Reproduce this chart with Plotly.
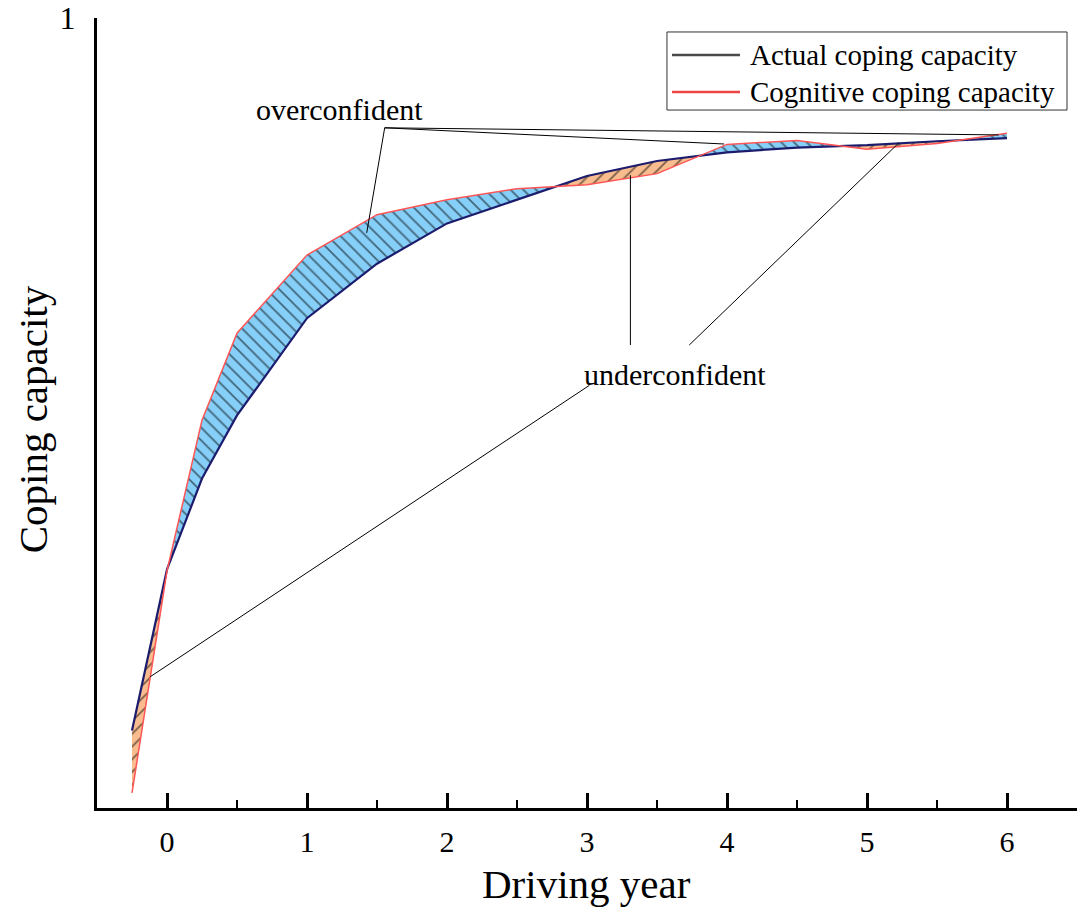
import plotly.graph_objects as go

# ---------------- data ----------------
driving_year = [-0.25, 0, 0.25, 0.5, 1, 1.5, 2, 2.5, 3, 3.5, 4, 4.5, 5, 5.5, 6]
actual_capacity = [0.098, 0.302, 0.417, 0.497, 0.620, 0.689, 0.740, 0.770,
                   0.800, 0.819, 0.830, 0.836, 0.839, 0.844, 0.848]
cognitive_capacity = [0.019, 0.300, 0.491, 0.601, 0.700, 0.751, 0.770, 0.784,
                      0.789, 0.803, 0.840, 0.845, 0.834, 0.841, 0.854]
x_ticks = [0, 1, 2, 3, 4, 5, 6]
y_ticks = [1]
series_names = ["Actual coping capacity", "Cognitive coping capacity"]
labels = ["overconfident", "underconfident"]
axis_titles = ["Driving year", "Coping capacity"]

# ---------------- styles / positions ----------------
FONT = "Liberation Serif"
NAVY = "#1c1c6e"
RED = "#ff5555"
BLUE_FILL = "#86cff8"
ORANGE_FILL = "#f9bc8f"
LEGEND_COLORS = ["#4a4a4a", "#ee4444"]

over_text_pos = (1.234, 0.884)
under_text_pos = (3.63, 0.549)
over_apex = (1.555, 0.861)
over_targets = [(1.4265, 0.728), (3.98, 0.8405), (5.941, 0.852)]
under_lines = [((3.31, 0.586), (3.31, 0.801)),
               ((3.73, 0.586), (5.228, 0.842)),
               ((3.017, 0.535), (-0.121, 0.166))]

# legend geometry (paper coords)
LEG_BOX = (0.5816, 0.8835, 0.9898, 0.9823)
LEG_ROWS = [0.9532, 0.9063]
LEG_LINE_X = (0.5867, 0.6561)
LEG_TEXT_X = 0.6643

# ------------- split into over/under regions -------------
px, pa, pc = [], [], []
n = len(driving_year)
for i in range(n):
    px.append(driving_year[i]); pa.append(actual_capacity[i]); pc.append(cognitive_capacity[i])
    if i < n - 1:
        d0 = cognitive_capacity[i] - actual_capacity[i]
        d1 = cognitive_capacity[i + 1] - actual_capacity[i + 1]
        if d0 * d1 < 0:
            t = d0 / (d0 - d1)
            xc = driving_year[i] + t * (driving_year[i + 1] - driving_year[i])
            yc = actual_capacity[i] + t * (actual_capacity[i + 1] - actual_capacity[i])
            px.append(xc); pa.append(yc); pc.append(yc)

runs = []
cur = []
for k in range(len(px)):
    cur.append(k)
    is_cross = (pa[k] == pc[k]) and 0 < k < len(px) - 1
    if is_cross:
        runs.append(cur)
        cur = [k]
if len(cur) > 1:
    runs.append(cur)

fig = go.Figure()
for run in runs:
    diffs = [pc[k] - pa[k] for k in run if pc[k] != pa[k]]
    over = sum(diffs) > 0
    col = BLUE_FILL if over else ORANGE_FILL
    xs = [px[k] for k in run] + [px[k] for k in reversed(run)]
    ys = [pc[k] for k in run] + [pa[k] for k in reversed(run)]
    fig.add_trace(go.Scatter(
        x=xs, y=ys, mode="lines", fill="toself", line=dict(width=0),
        fillcolor=col,
        fillpattern=dict(shape="\\" if over else "/", bgcolor=col,
                         fgcolor="black", size=9, solidity=0.2),
        showlegend=False, hoverinfo="skip"))

fig.add_trace(go.Scatter(x=driving_year, y=actual_capacity, mode="lines",
                         name=series_names[0],
                         line=dict(color=NAVY, width=2.2), showlegend=False))
fig.add_trace(go.Scatter(x=driving_year, y=cognitive_capacity, mode="lines",
                         name=series_names[1],
                         line=dict(color=RED, width=1.5), showlegend=False))

shapes = []
for tx, ty in over_targets:
    shapes.append(dict(type="line", xref="x", yref="y", x0=over_apex[0], y0=over_apex[1],
                       x1=tx, y1=ty, line=dict(color="black", width=1)))
for (x0, y0), (x1, y1) in under_lines:
    shapes.append(dict(type="line", xref="x", yref="y", x0=x0, y0=y0, x1=x1, y1=y1,
                       line=dict(color="black", width=1)))

# legend box + samples
shapes.append(dict(type="rect", xref="paper", yref="paper",
                   x0=LEG_BOX[0], y0=LEG_BOX[1], x1=LEG_BOX[2], y1=LEG_BOX[3],
                   line=dict(color="#333333", width=1), fillcolor="white"))
for ry, c in zip(LEG_ROWS, LEGEND_COLORS):
    shapes.append(dict(type="line", xref="paper", yref="paper",
                       x0=LEG_LINE_X[0], x1=LEG_LINE_X[1], y0=ry, y1=ry,
                       line=dict(color=c, width=2.5)))

annotations = [
    dict(x=over_text_pos[0], y=over_text_pos[1], xref="x", yref="y", text=labels[0],
         showarrow=False, font=dict(family=FONT, size=30, color="black")),
    dict(x=under_text_pos[0], y=under_text_pos[1], xref="x", yref="y", text=labels[1],
         showarrow=False, font=dict(family=FONT, size=30, color="black")),
    dict(x=0.499, y=-0.096, xref="paper", yref="paper", text=axis_titles[0],
         showarrow=False, xanchor="center", yanchor="middle",
         font=dict(family=FONT, size=41, color="black")),
    dict(x=-0.0653, y=0.492, xref="paper", yref="paper", text=axis_titles[1],
         showarrow=False, xanchor="center", yanchor="middle", textangle=-90,
         font=dict(family=FONT, size=41, color="black")),
]
for ry, name in zip(LEG_ROWS, series_names):
    annotations.append(dict(x=LEG_TEXT_X, y=ry, xref="paper", yref="paper", text=name,
                            showarrow=False, xanchor="left", yanchor="middle",
                            font=dict(family=FONT, size=29, color="black")))

fig.update_layout(
    width=1086, height=920,
    margin=dict(l=97, r=9, t=18, b=112, autoexpand=False),
    paper_bgcolor="white", plot_bgcolor="white",
    font=dict(family=FONT, color="black"),
    showlegend=False,
    shapes=shapes, annotations=annotations,
    xaxis=dict(range=[-0.5, 6.5], tickmode="array", tickvals=x_ticks,
               ticktext=[str(v) for v in x_ticks], automargin=False,
               showline=True, linecolor="black", linewidth=3,
               ticks="inside", ticklen=15, tickwidth=2.5, tickcolor="black",
               minor=dict(ticks="inside", ticklen=8, tickwidth=2, tickcolor="black",
                          tick0=-0.5, dtick=0.5),
               showgrid=False, zeroline=False,
               tickfont=dict(family=FONT, size=30), ticklabelstandoff=5),
    yaxis=dict(range=[0, 1], tickmode="array", tickvals=y_ticks,
               ticktext=[str(v) for v in y_ticks], automargin=False,
               showline=True, linecolor="black", linewidth=3,
               ticks="inside", ticklen=17, tickwidth=3, tickcolor="black",
               showgrid=False, zeroline=False,
               tickfont=dict(family=FONT, size=32), ticklabelstandoff=12),
)

fig.write_html("out.html")
